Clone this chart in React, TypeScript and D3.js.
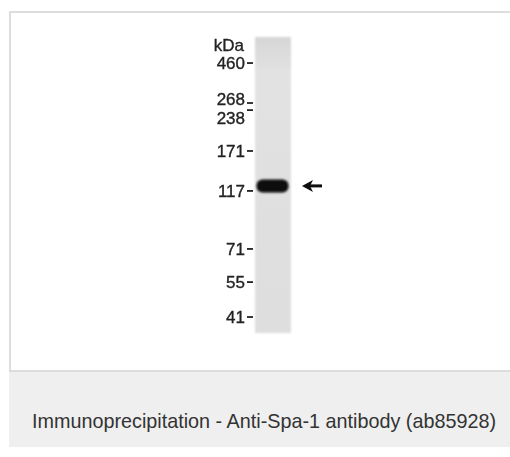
import { useMemo } from "react";
import * as d3 from "d3";

const width = 510;
const height = 457;

// marker ladder (kDa) and their relative migration (0 = well, 1 = lane bottom)
const markerLabels = ["460", "268", "238", "171", "117", "71", "55", "41"];
const markerRf = [0.088, 0.223, 0.247, 0.385, 0.52, 0.716, 0.828, 0.946];
// 268 has its dash under the text, 238 above it
const labelShift = [0, -4, 8, 0, 0, 0, 0, 0];

// detected band
const bandRf = [0.503];
const bandIntensity = [1];

const caption = "Immunoprecipitation - Anti-Spa-1 antibody (ab85928)";

const App = () => {
  const laneX = [255, 291];
  const laneTop = 37;
  const laneBottom = 333;

  const y = useMemo(
    () => d3.scaleLinear().domain([0, 1]).range([laneTop, laneBottom]),
    []
  );
  const shade = d3.scaleLinear<string>().domain([0, 1]).range(["#9a9a9a", "#080808"]);

  return (
    <svg
      width={width}
      height={height}
      style={{ position: "fixed", left: 0, top: 0 }}
      fontFamily="'Liberation Sans', Arial, sans-serif"
    >
      <defs>
        <linearGradient id="lane" x1="0" y1="0" x2="0" y2="1">
          <stop offset="0" stopColor="#d6d6d6" />
          <stop offset="0.12" stopColor="#e2e2e2" />
          <stop offset="1" stopColor="#dedede" />
        </linearGradient>
        <filter id="soft" x="-20%" y="-50%" width="140%" height="200%">
          <feGaussianBlur stdDeviation="1.2" />
        </filter>
        <filter id="txt">
          <feGaussianBlur stdDeviation="0.45" />
        </filter>
      </defs>
      <rect width={width} height={height} fill="#fff" />
      {/* image frame */}
      <rect x={10} y={12} width={width + 5} height={359} fill="#fff" stroke="#dddddd" strokeWidth={2} />
      {/* caption area */}
      <rect x={9} y={372} width={width - 9} height={75} fill="#eeefee" />
      <text x={264} y={428} textAnchor="middle" fontSize={19.8} fill="#333">
        {caption}
      </text>

      {/* lane */}
      <rect
        x={laneX[0]}
        y={laneTop}
        width={laneX[1] - laneX[0]}
        height={laneBottom - laneTop}
        fill="url(#lane)"
        filter="url(#soft)"
      />
      {bandRf.map((r, i) => (
        <rect
          key={i}
          x={laneX[0] + 1.5}
          y={y(r) - 6.5}
          width={laneX[1] - laneX[0] - 4}
          height={13}
          rx={6}
          fill={shade(bandIntensity[i])}
          filter="url(#soft)"
        />
      ))}

      {/* markers */}
      <g filter="url(#txt)" fill="#222" stroke="#222" strokeWidth={0.35}>
        <text x={244} y={51} textAnchor="end" fontSize={17}>
          kDa
        </text>
        {markerLabels.map((m, i) => (
          <g key={m}>
            <text
              x={245}
              y={y(markerRf[i]) + 6 + labelShift[i]}
              textAnchor="end"
              fontSize={17}
            >
              {m}
            </text>
            <line
              x1={247}
              x2={253}
              y1={y(markerRf[i])}
              y2={y(markerRf[i])}
              stroke="#222"
              strokeWidth={1.8}
            />
          </g>
        ))}
      </g>

      {/* arrow */}
      {bandRf.map((r, i) => (
        <g key={i} filter="url(#txt)">
          <line x1={308} x2={322} y1={y(r)} y2={y(r)} stroke="#111" strokeWidth={3} />
          <path
            d={d3.line()([
              [302, y(r)],
              [313, y(r) - 6],
              [310, y(r)],
              [313, y(r) + 6],
            ]) + "Z"}
            fill="#111"
          />
        </g>
      ))}
    </svg>
  );
};

export default App;
